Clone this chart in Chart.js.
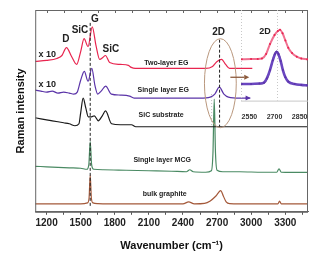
<!DOCTYPE html>
<html>
<head>
<meta charset="utf-8">
<script src="https://cdn.jsdelivr.net/npm/chart.js@4.4.0/dist/chart.umd.min.js"></script>
<style>
  html, body { margin: 0; padding: 0; background: #fff; }
  #wrap { position: relative; width: 324px; height: 260px; overflow: hidden; }
  #main { position: absolute; left: 0; top: 0; }
  #inset { position: absolute; left: 231px; top: 0; }
</style>
</head>
<body>
<div id="wrap">
  <canvas id="main" width="324" height="260"></canvas>
  <canvas id="inset" width="93" height="128"></canvas>
</div>
<script>
// ── Data (offset intensities, arbitrary units) ──
const MAJOR_TICKS = [1200, 1500, 1800, 2100, 2400, 2700, 3000, 3300];
const MINOR_TICKS = [1350, 1650, 1950, 2250, 2550, 2850, 3150, 3450];
const INSET_TICKS = [2550, 2700, 2850];

const TWO_LAYER_WN = [1100, 1200, 1290, 1335, 1375, 1420, 1465, 1500, 1530, 1565, 1602, 1635, 1668, 1695, 1718, 1755, 1850, 1920, 1945, 1980, 2100, 2300, 2500, 2600, 2660, 2700, 2740, 2775, 2810, 2900, 3010];
const TWO_LAYER_I  = [152, 153, 155, 158, 166, 157, 149, 162, 175, 167, 187, 168, 154, 156, 158, 151, 149, 148, 146, 145, 145, 145, 145, 145, 147, 152, 154, 149, 145, 145, 145];

const SINGLE_EG_WN = [1100, 1150, 1200, 1250, 1300, 1350, 1400, 1440, 1470, 1500, 1532, 1565, 1598, 1625, 1650, 1680, 1720, 1770, 1850, 1930, 1970, 2100, 2300, 2550, 2640, 2680, 2720, 2760, 2800, 2900, 2992];
const SINGLE_EG_I  = [123, 122, 121, 122, 120, 121, 120, 119, 121, 133, 142, 132, 145, 128, 119, 122, 127, 119, 118, 117, 115, 115, 115, 115, 116, 119, 126, 119, 116, 115, 115];

const SIC_WN = [1100, 1150, 1200, 1250, 1300, 1350, 1400, 1450, 1485, 1500, 1522, 1545, 1567, 1595, 1620, 1655, 1690, 1719, 1772, 1850, 1947, 1985, 2100, 2400, 2800, 3200, 3500];
const SIC_I  = [95, 94, 93, 92, 91, 90, 89, 87, 89, 100, 115, 105, 96, 96, 97, 92, 97, 102, 89, 88, 88, 86, 86, 86, 86, 86, 86];

const MCG_WN = [1100, 1200, 1300, 1400, 1500, 1555, 1572, 1584, 1596, 1615, 1700, 1900, 2100, 2300, 2430, 2460, 2490, 2600, 2650, 2664, 2675, 2686, 2700, 2750, 2900, 3100, 3225, 3245, 3265, 3350, 3500];
const MCG_I  = [46, 45.5, 45, 44.5, 44, 43, 48, 71, 48, 43, 42.5, 42, 41.5, 41, 40.5, 42.5, 40.5, 40, 41.5, 60, 114, 60, 42, 40.5, 40.5, 40, 40, 43.5, 40, 39.8, 39.8];

const BULK_WN = [1100, 1300, 1500, 1560, 1574, 1584, 1594, 1608, 1650, 1800, 2100, 2400, 2450, 2500, 2590, 2640, 2690, 2732, 2755, 2780, 2810, 2900, 3235, 3250, 3265, 3500];
const BULK_I  = [8, 8, 8, 9, 14, 37, 14, 9, 8.3, 8, 8, 8, 10, 8, 8.5, 11, 16, 21.5, 16, 10, 8.2, 8, 8, 10.7, 8, 8];

// inset: 2D band zoom
const INSET_TWO_WN = [2505, 2560, 2600, 2625, 2650, 2673, 2700, 2720, 2733, 2748, 2765, 2782, 2805, 2833, 2860, 2895];
const INSET_TWO_I  = [46, 46.5, 46.5, 47, 52, 63, 73, 77.5, 79, 75, 67, 59, 53, 49, 47, 46];
const INSET_ONE_WN = [2505, 2560, 2610, 2637, 2655, 2673, 2690, 2703, 2713, 2723, 2737, 2750, 2765, 2783, 2820, 2860, 2895];
const INSET_ONE_I  = [18.5, 18.5, 19, 20, 25, 34, 45, 52, 54.5, 52, 44, 34, 26, 21, 18.5, 17.5, 17];
const INSET_FIT_WN = [2505, 2600, 2640, 2660, 2675, 2690, 2703, 2713, 2723, 2737, 2750, 2765, 2785, 2830, 2895];
const INSET_FIT_I  = [18, 18.5, 20, 26, 35, 46, 53, 55, 53, 45, 34, 26, 21, 18, 17];

const FONT = "'Liberation Sans', Arial, sans-serif";
const COL = {
  red: '#e8254f', purple: '#5b34a8', black: '#1a1a1a',
  green: '#4a8a63', brown: '#a4593a', tan: '#b9977d',
};

const pts = (xs, ys) => xs.map((x, i) => ({ x, y: ys[i] }));

function line(label, xs, ys, color, width) {
  return {
    label, data: pts(xs, ys),
    borderColor: color, backgroundColor: color,
    borderWidth: width || 1.2, pointRadius: 0,
    cubicInterpolationMode: 'monotone', fill: false,
  };
}

function arrow(ctx, x1, y, x2, color, head) {
  ctx.save();
  ctx.strokeStyle = color; ctx.fillStyle = color; ctx.lineWidth = 1.3;
  ctx.beginPath(); ctx.moveTo(x1, y); ctx.lineTo(x2 - head, y); ctx.stroke();
  ctx.beginPath(); ctx.moveTo(x2, y); ctx.lineTo(x2 - head, y - head / 2); ctx.lineTo(x2 - head, y + head / 2); ctx.closePath(); ctx.fill();
  ctx.restore();
}

// ── Main chart decorations ──
const mainDeco = {
  id: 'mainDeco',
  afterDatasetsDraw(chart) {
    const { ctx, chartArea: a } = chart;
    const xs = chart.scales.x, ys = chart.scales.y;
    const X = v => xs.getPixelForValue(v), Y = v => ys.getPixelForValue(v);
    ctx.save();

    // frame + inward top ticks
    ctx.strokeStyle = '#666'; ctx.lineWidth = 1;
    ctx.strokeRect(a.left + 0.5, a.top + 0.5, a.right - a.left - 1, a.bottom - a.top);
    for (const v of [...MAJOR_TICKS, ...MINOR_TICKS]) {
      const px = Math.round(X(v)) + 0.5;
      ctx.beginPath(); ctx.moveTo(px, a.top); ctx.lineTo(px, a.top + 3); ctx.stroke();
    }

    // dashed guides
    ctx.strokeStyle = '#222'; ctx.lineWidth = 1; ctx.setLineDash([3, 2]);
    ctx.beginPath(); ctx.moveTo(X(1584), Y(191)); ctx.lineTo(X(1584), Y(4)); ctx.stroke();
    ctx.beginPath(); ctx.moveTo(X(2722), Y(174)); ctx.lineTo(X(2722), Y(86)); ctx.stroke();
    ctx.strokeStyle = '#bbb'; ctx.setLineDash([1, 2]);
    ctx.beginPath(); ctx.moveTo(X(2652), Y(119)); ctx.lineTo(X(2652), Y(84)); ctx.stroke();
    ctx.setLineDash([]);

    // ellipse round the 2D bands
    ctx.strokeStyle = COL.tan; ctx.lineWidth = 1;
    ctx.beginPath();
    ctx.ellipse(X(2729), Y(130), X(2869) - X(2729), Y(130) - Y(175), 0, 0, Math.PI * 2);
    ctx.stroke();

    // arrows
    arrow(ctx, X(2817), Y(136), X(2983), '#8b5a3c', 5);
    arrow(ctx, X(2960), Y(115), X(2995), COL.purple, 5);

    // labels
    ctx.fillStyle = '#222'; ctx.textAlign = 'center'; ctx.textBaseline = 'middle';
    ctx.font = `bold 9px ${FONT}`;
    ctx.fillText('x 10', X(1205), Y(158.5));
    ctx.fillText('x 10', X(1205), Y(129));
    ctx.font = `bold 10px ${FONT}`;
    ctx.fillText('D', X(1369), Y(174.7));
    ctx.fillText('SiC', X(1494), Y(183.3));
    ctx.fillText('G', X(1626), Y(195));
    ctx.fillText('SiC', X(1766), Y(164.7));
    ctx.fillText('2D', X(2714), Y(181.3));
    ctx.font = `bold 7px ${FONT}`;
    ctx.fillText('Two-layer EG', X(2254), Y(150.7));
    ctx.fillText('Single layer EG', X(2226), Y(123.5));
    ctx.fillText('SiC substrate', X(2208), Y(98));
    ctx.fillText('Single layer MCG', X(2217), Y(52.3));
    ctx.fillText('bulk graphite', X(2239), Y(18));
    ctx.restore();
  },
};

new Chart(document.getElementById('main'), {
  type: 'line',
  data: {
    datasets: [
      line('Two-layer EG', TWO_LAYER_WN, TWO_LAYER_I, COL.red),
      line('Single layer EG', SINGLE_EG_WN, SINGLE_EG_I, COL.purple),
      line('SiC substrate', SIC_WN, SIC_I, COL.black),
      line('Single layer MCG', MCG_WN, MCG_I, COL.green),
      line('bulk graphite', BULK_WN, BULK_I, COL.brown),
    ],
  },
  options: {
    responsive: false, animation: false, devicePixelRatio: 1,
    layout: { padding: { left: 7, top: 10, right: 16, bottom: 5 } },
    plugins: { legend: { display: false }, tooltip: { enabled: false } },
    scales: {
      x: {
        type: 'linear', min: 1100, max: 3500,
        afterBuildTicks: s => { s.ticks = [...MAJOR_TICKS, ...MINOR_TICKS].sort((a, b) => a - b).map(v => ({ value: v })); },
        ticks: {
          autoSkip: false, maxRotation: 0, padding: 2, color: '#222',
          font: { family: FONT, size: 10, weight: 'bold' },
          callback: v => MAJOR_TICKS.includes(v) ? String(v) : '',
        },
        grid: { display: true, drawOnChartArea: false, drawTicks: true, tickLength: 3, tickColor: '#555' },
        border: { display: true, color: '#666' },
        title: {
          display: true, text: 'Wavenumber (cm\u207B\u00B9)', color: '#111',
          font: { family: FONT, size: 11, weight: 'bold' }, padding: { top: 9, bottom: 2 },
        },
      },
      y: {
        min: 0, max: 204,
        ticks: { display: false },
        grid: { display: false },
        border: { display: false },
        title: {
          display: true, text: 'Raman intensity', color: '#111',
          font: { family: FONT, size: 11, weight: 'bold' }, padding: { top: 7, bottom: 0 },
        },
      },
    },
  },
  plugins: [mainDeco],
});

// ── Inset: 2D band ──
const insetDeco = {
  id: 'insetDeco',
  beforeDatasetsDraw(chart) {
    const { ctx, chartArea: a } = chart;
    const X = v => chart.scales.x.getPixelForValue(v);
    ctx.save();
    ctx.strokeStyle = '#c8c8c8'; ctx.lineWidth = 1; ctx.setLineDash([1, 2]);
    ctx.beginPath(); ctx.moveTo(a.left + 0.5, a.top); ctx.lineTo(a.left + 0.5, a.bottom); ctx.stroke();
    ctx.beginPath(); ctx.moveTo(Math.round(X(2715)) + 0.5, a.top); ctx.lineTo(Math.round(X(2715)) + 0.5, a.bottom); ctx.stroke();
    ctx.setLineDash([]);
    ctx.beginPath(); ctx.moveTo(a.left, a.bottom + 0.5); ctx.lineTo(a.right, a.bottom + 0.5); ctx.stroke();
    ctx.restore();
  },
  afterDatasetsDraw(chart) {
    const { ctx } = chart;
    const X = v => chart.scales.x.getPixelForValue(v), Y = v => chart.scales.y.getPixelForValue(v);
    ctx.save();
    ctx.fillStyle = '#222'; ctx.textAlign = 'center'; ctx.textBaseline = 'middle';
    ctx.font = `bold 9px ${FONT}`;
    ctx.fillText('2D', X(2643), Y(76.7));
    ctx.restore();
  },
};

new Chart(document.getElementById('inset'), {
  type: 'line',
  data: {
    datasets: [
      { ...line('Two-layer EG', INSET_TWO_WN, INSET_TWO_I, '#f07090', 2), pointRadius: 1, pointBackgroundColor: COL.red, pointBorderWidth: 0 },
      { ...line('Single layer EG', INSET_ONE_WN, INSET_ONE_I, '#6a46c0', 2.6), pointRadius: 1, pointBackgroundColor: COL.purple, pointBorderWidth: 0 },
      line('fit', INSET_FIT_WN, INSET_FIT_I, '#7d5a45', 1.2),
    ],
  },
  options: {
    responsive: false, animation: false, devicePixelRatio: 1,
    layout: { padding: { left: 10, top: 10, right: 16, bottom: 3 } },
    plugins: { legend: { display: false }, tooltip: { enabled: false } },
    scales: {
      x: {
        type: 'linear', min: 2500, max: 2900,
        afterBuildTicks: s => { s.ticks = INSET_TICKS.map(v => ({ value: v })); },
        ticks: {
          autoSkip: false, maxRotation: 0, padding: 4, color: '#333',
          font: { family: FONT, size: 7, weight: 'bold' },
          callback: v => String(v),
        },
        grid: { display: false },
        border: { display: false },
      },
      y: { display: false, min: 0, max: 101 },
    },
  },
  plugins: [insetDeco],
});
</script>
</body>
</html>
